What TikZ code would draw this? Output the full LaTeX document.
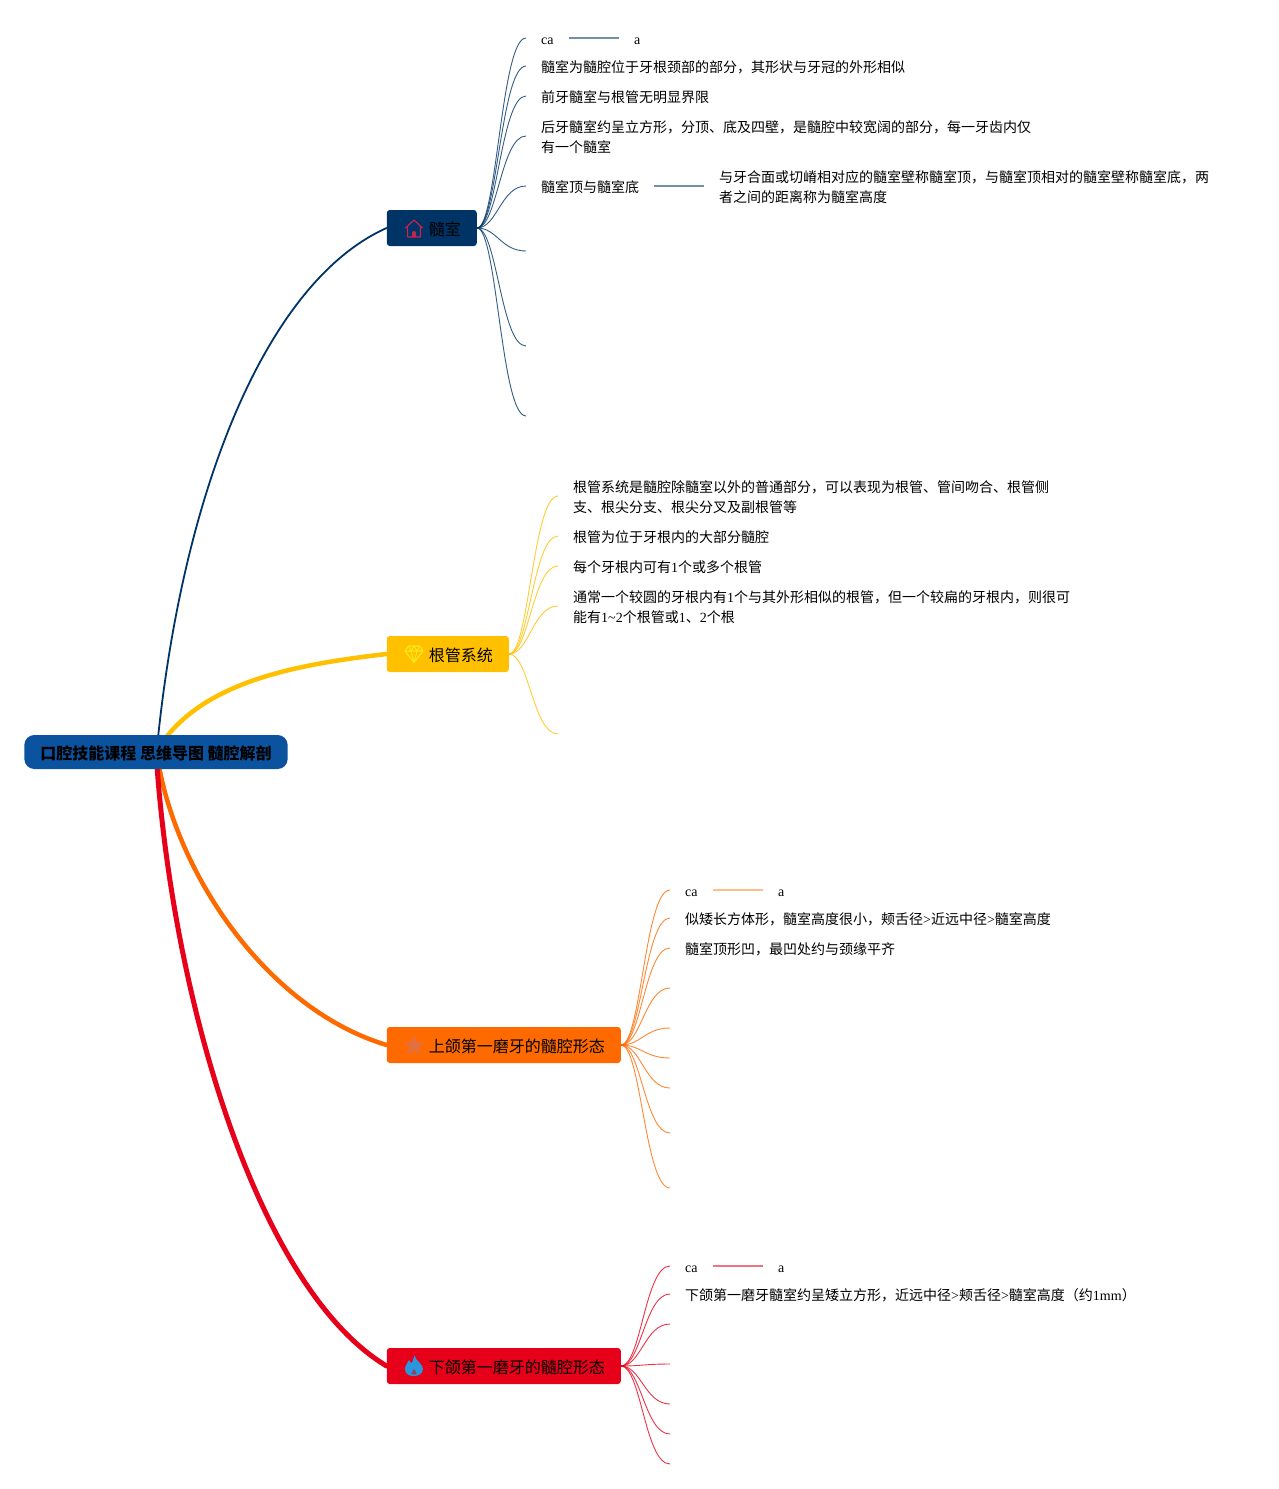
\documentclass[tikz,border=0pt]{standalone}
\usepackage{fontspec}
\usepackage{tikz}
\usetikzlibrary{shapes.geometric,backgrounds}
\setmainfont{Liberation Serif}
\newfontfamily\cjk{Noto Sans CJK SC}
\newcommand{\lat}[1]{{\rmfamily #1}}
\definecolor{chamberblue}{HTML}{003366}
\definecolor{rootblue}{HTML}{0B529F}
\definecolor{canalyellow}{HTML}{FFC000}
\definecolor{upperorange}{HTML}{FF6A00}
\definecolor{lowerred}{HTML}{E60019}
\definecolor{houseicon}{HTML}{C4244E}
\definecolor{gemicon}{HTML}{FFE61A}
\definecolor{staricon}{HTML}{E2703F}
\definecolor{flameicon}{HTML}{2A96DE}
\tikzset
{
	rootnode/.style = {rectangle, rounded corners=10pt, fill=rootblue, inner xsep=16pt, inner ysep=0pt, minimum height=34pt, text height=17.5pt, text depth=2pt, font=\cjk\bfseries\fontsize{16}{20}\selectfont},
	topicnode/.style = {rectangle, rounded corners=3pt, anchor=west, inner xsep=16pt, inner ysep=0pt, minimum height=36pt, text height=17pt, text depth=2pt, font=\cjk\fontsize{16}{20}\selectfont, execute at begin node=\hspace*{26pt}},
	leafnode/.style = {anchor=north west, align=left, inner sep=0pt, font=\cjk\fontsize{14}{20}\selectfont, execute at begin node=\strut},
	latnode/.style = {anchor=west, inner sep=0pt, text height=15pt, text depth=3pt, font=\fontsize{14}{16}\selectfont},
	hsline/.style = {line width=1.5pt, shorten <=15.6pt, shorten >=15pt},
	subbranch/.style = {line width=0.9pt, opacity=0.8},
	mainbranch/.style = {line cap=round}
}
\begin{document}
\begin{tikzpicture}[x=1pt,y=-1pt]
	\useasboundingbox (0,0) rectangle (1279,1489);
	\node[rootnode] (root) at (156,752) {口腔技能课程 思维导图 髓腔解剖};
	\node[topicnode,fill=chamberblue] (chamber) at (386.6,228) {髓室};
	\node[topicnode,fill=canalyellow] (canal) at (386.6,654) {根管系统};
	\node[topicnode,fill=upperorange] (upper) at (386.6,1045) {上颌第一磨牙的髓腔形态};
	\node[topicnode,fill=lowerred] (lower) at (386.6,1366) {下颌第一磨牙的髓腔形态};
	\begin{scope}[on background layer]
		\draw[mainbranch,chamberblue,line width=1.8pt] ([xshift=2pt,yshift=-3pt]root.north) .. controls (185,480) and (270,280) .. (chamber.west);
		\draw[mainbranch,canalyellow,line width=4.5pt] ([xshift=9pt,yshift=-4pt]root.north) .. controls (210,680) and (300,664) .. (canal.west);
		\draw[mainbranch,upperorange,line width=4.5pt] ([xshift=3pt,yshift=3pt]root.south) .. controls (180,880) and (270,1010) .. (upper.west);
		\draw[mainbranch,lowerred,line width=5pt] ([xshift=1pt,yshift=3pt]root.south) .. controls (175,1010) and (260,1290) .. (lower.west);
	\end{scope}
	\foreach \i/\ny in {1/38,2/66,3/96,4/136,5/186,6/251,7/346,8/416}
	{
		\coordinate (chamber\i) at (526,\ny);
		\draw[subbranch,chamberblue] (chamber.east) .. controls +(20,0) and +(-25,0) .. (chamber\i);
	}
	\foreach \i/\ny in {1/496,2/536,3/566,4/606,5/734}
	{
		\coordinate (canal\i) at (558,\ny);
		\draw[subbranch,canalyellow] (canal.east) .. controls +(20,0) and +(-25,0) .. (canal\i);
	}
	\foreach \i/\ny in {1/890,2/918,3/948,4/988,5/1028,6/1058,7/1088,8/1133,9/1188}
	{
		\coordinate (upper\i) at (670,\ny);
		\draw[subbranch,upperorange] (upper.east) .. controls +(20,0) and +(-25,0) .. (upper\i);
	}
	\foreach \i/\ny in {1/1266,2/1294,3/1324,4/1364,5/1404,6/1434,7/1464}
	{
		\coordinate (lower\i) at (670,\ny);
		\draw[subbranch,lowerred] (lower.east) .. controls +(20,0) and +(-25,0) .. (lower\i);
	}
	\node[latnode] (chamberca) at (541,38) {ca};
	\node[latnode] (chambera) at (634,38) {a};
	\draw[hsline,chamberblue!55] (chamberca.east) -- (chambera.west);
	\node[leafnode] (chambertext1) at (541,58.4) {髓室为髓腔位于牙根颈部的部分，其形状与牙冠的外形相似};
	\node[leafnode] (chambertext2) at (541,88.4) {前牙髓室与根管无明显界限};
	\node[leafnode] (chambertext3) at (541,120.3) {后牙髓室约呈立方形，分顶、底及四壁，是髓腔中较宽阔的部分，每一牙齿内仅\\有一个髓室};
	\node[leafnode] (roofname) at (541,178.4) {髓室顶与髓室底};
	\node[leafnode] (rooftext) at (719,170.3) {与牙合面或切嵴相对应的髓室壁称髓室顶，与髓室顶相对的髓室壁称髓室底，两\\者之间的距离称为髓室高度};
	\draw[line width=1.5pt,chamberblue!55,shorten <=15pt,shorten >=15pt] ([yshift=2.5pt]roofname.east) -- ([yshift=2.5pt]roofname.east -| rooftext.west);
	\node[leafnode] (canaltext1) at (573,480.3) {根管系统是髓腔除髓室以外的普通部分，可以表现为根管、管间吻合、根管侧\\支、根尖分支、根尖分叉及副根管等};
	\node[leafnode] (canaltext2) at (573,528.4) {根管为位于牙根内的大部分髓腔};
	\node[leafnode] (canaltext3) at (573,558.4) {每个牙根内可有\lat{1}个或多个根管};
	\node[leafnode] (canaltext4) at (573,590.3) {通常一个较圆的牙根内有\lat{1}个与其外形相似的根管，但一个较扁的牙根内，则很可\\能有\lat{1\textasciitilde2}个根管或\lat{1}、\lat{2}个根};
	\node[latnode] (upperca) at (685,890) {ca};
	\node[latnode] (uppera) at (778,890) {a};
	\draw[hsline,upperorange!45] (upperca.east) -- (uppera.west);
	\node[leafnode] (uppertext1) at (685,910.4) {似矮长方体形，髓室高度很小，颊舌径\lat{>}近远中径\lat{>}髓室高度};
	\node[leafnode] (uppertext2) at (685,940.4) {髓室顶形凹，最凹处约与颈缘平齐};
	\node[latnode] (lowerca) at (685,1266) {ca};
	\node[latnode] (lowera) at (778,1266) {a};
	\draw[hsline,lowerred!55] (lowerca.east) -- (lowera.west);
	\node[leafnode] (lowertext1) at (685,1286.4) {下颌第一磨牙髓室约呈矮立方形，近远中径\lat{>}颊舌径\lat{>}髓室高度（约\lat{1mm}）};
	\begin{scope}[shift={(414,229)},line join=round]
		\draw[houseicon,line width=1.2pt] (-8.5,-1) -- (0,-9) -- (8.5,-1) (-6.5,-2) -- (-6.5,8) -- (6.5,8) -- (6.5,-2);
		\fill[houseicon] (-2,8) -- (-2,4) arc (180:360:2) -- (2,8) -- cycle;
	\end{scope}
	\begin{scope}[shift={(414,654)},line join=round,gemicon,line width=1.1pt]
		\draw (-5.5,-8) -- (5.5,-8) -- (9,-3) -- (0,8.5) -- (-9,-3) -- cycle;
		\draw (-9,-3) -- (9,-3) (-5.5,-8) -- (-3,-3) -- (0,8.5) -- (3,-3) -- (5.5,-8) (-3,-3) -- (0,-8) -- (3,-3);
	\end{scope}
	\node[star,star points=5,star point ratio=2.3,fill=staricon,inner sep=0pt,minimum size=22pt] (starmark) at (414,1046) {};
	\begin{scope}[shift={(414,1366)}]
		\fill[flameicon] (0.5,-10.5) .. controls (2,-5) and (9,-2) .. (9,3) .. controls (9,8) and (4,10) .. (0,10) .. controls (-5,10) and (-9,8) .. (-9,3) .. controls (-9,-1) and (-6,-3) .. (-5,-6) .. controls (-4,-4) and (-3,-3) .. (-2,-3) .. controls (-1,-5) and (-1,-8) .. (0.5,-10.5) -- cycle;
		\fill[lowerred!60!flameicon] (0,3) .. controls (1,5) and (2.5,6) .. (2.5,7.5) .. controls (2.5,9) and (-2.5,9) .. (-2.5,7.5) .. controls (-2.5,6) and (-1,5) .. (0,3) -- cycle;
	\end{scope}
\end{tikzpicture}
\end{document}
